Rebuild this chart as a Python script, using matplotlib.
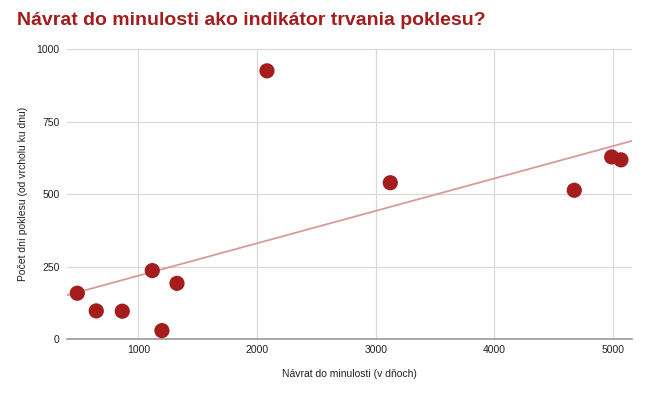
import matplotlib
matplotlib.use('Agg')
import matplotlib.pyplot as plt
import numpy as np

plt.rcParams['font.family'] = ['Liberation Sans', 'DejaVu Sans']

# návrat do minulosti (dni) vs. počet dní poklesu
navrat_dni = [486, 646, 865, 1118, 1199, 1326, 2084, 3123, 4673, 4988, 5066]
pokles_dni = [159, 98, 97, 237, 30, 193, 926, 540, 514, 629, 619]
x_ticks = [1000, 2000, 3000, 4000, 5000]
y_ticks = [0, 250, 500, 750, 1000]

title_color = '#a51c1c'
point_color = '#a51c1c'

fig = plt.figure(figsize=(6.56, 3.95), dpi=100)
ax = fig.add_axes([0.1017, 0.141, 0.8613, 0.734])

x = np.array(navrat_dni, dtype=float)
y = np.array(pokles_dni, dtype=float)

xmin, xmax = 397, 5157
k, q = np.polyfit(x, y, 1)
xline = np.array([xmin, xmax])
ax.plot(xline, k * xline + q, color='#d99a9a', lw=1.3, zorder=2)

ax.scatter(x, y, s=120, color=point_color, edgecolors='none', zorder=3)

ax.set_xlim(xmin, xmax)
ax.set_ylim(0, 1000)
ax.set_xticks(x_ticks)
ax.set_yticks(y_ticks)
ax.tick_params(axis='y', length=0, labelsize=7.5, colors='#222222', pad=5)
ax.tick_params(axis='x', length=0, labelsize=7.5, colors='#222222', pad=4)
ax.grid(True, color='#d9d9d9', lw=0.9, zorder=0)
ax.set_axisbelow(True)
for side in ['top', 'right', 'left']:
    ax.spines[side].set_visible(False)
ax.spines['bottom'].set_color('#999999')
ax.spines['bottom'].set_linewidth(1.2)

ax.set_xlabel('Návrat do minulosti (v dňoch)', fontsize=7.5, color='#222222', labelpad=10)
ax.set_ylabel('Počet dní poklesu (od vrcholu ku dnu)', fontsize=7.5, color='#222222', labelpad=6)

fig.text(0.026, 0.948, 'Návrat do minulosti ako indikátor trvania poklesu?',
         fontsize=14, fontweight='bold', color=title_color, va='center', ha='left')

fig.savefig('out.png', dpi=100)
